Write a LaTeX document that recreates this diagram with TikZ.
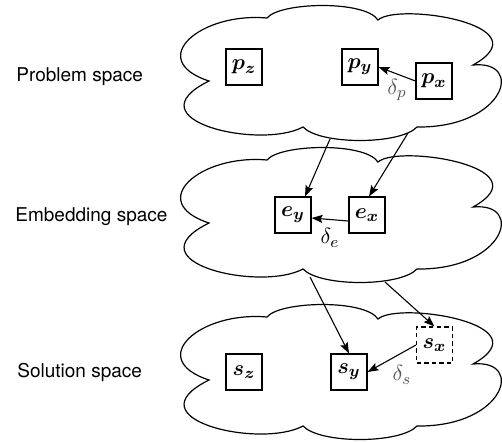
\documentclass[tikz,border=0pt]{standalone}
\usepackage{amsmath}
\usepackage{fontspec}
\setmainfont{TeX Gyre Heros}
\usetikzlibrary{arrows.meta,calc}
\tikzset{
  cloudline/.style={draw=black,line width=0.6pt},
  cloudpic/.pic={
    \draw[cloudline] (267,18) .. controls (280,2) and (365,0) .. (378,20)
      .. controls (398,2) and (545,25) .. (473,65)
      .. controls (525,60) and (505,128) .. (417,127)
      .. controls (400,145) and (320,145) .. (303,127)
      .. controls (260,150) and (130,120) .. (209,81)
      .. controls (145,60) and (200,12) .. (267,18) -- cycle;
  },
  box/.style={draw,line width=0.55pt,minimum size=18pt,inner sep=0pt,font=\fontsize{11}{13}\selectfont},
  dashbox/.style={box,dash pattern=on 2.2pt off 1.6pt},
  lbl/.style={anchor=base west,inner sep=0pt,font=\fontsize{9.5}{11}\selectfont},
  arr/.style={-{Stealth[length=5.5pt,width=4pt,inset=1pt]},line width=0.55pt},
  dl/.style={inner sep=0pt,font=\fontsize{11}{13}\selectfont,text=black!65},
}
\begin{document}
\begin{tikzpicture}[x=0.5pt,y=-0.5pt]
\useasboundingbox (0,0) rectangle (502,441);
% clouds
\pic at (0,0) {cloudpic};
\pic at (0,142) {cloudpic};
\pic at (0,299) {cloudpic};
% side labels
\node[lbl] (lp) at (16,81) {Problem space};
\node[lbl] (le) at (15,221.7) {Embedding space};
\node[lbl] (ls) at (17,377) {Solution space};
% boxes
\node[box] (pz) at (244,67) {$\boldsymbol{p_z}$};
\node[box] (py) at (360,67) {$\boldsymbol{p_y}$};
\node[box] (px) at (434,81) {$\boldsymbol{p_x}$};
\node[box] (ey) at (293,215) {$\boldsymbol{e_y}$};
\node[box] (ex) at (367,215) {$\boldsymbol{e_x}$};
\node[box] (sz) at (244,372) {$\boldsymbol{s_z}$};
\node[box] (sy) at (349,372) {$\boldsymbol{s_y}$};
\node[dashbox] (sx) at (434.5,345) {$\boldsymbol{s_x}$};
% edge start points on cloud borders
\coordinate (c1a) at (330,139);
\coordinate (c1b) at (408,133);
\coordinate (c2a) at (310,277);
\coordinate (c2b) at (385,282);
% arrows
\draw[arr] (px.west) -- (py.east);
\draw[arr] ($(ex.west)+(0,6)$) -- ($(ey.east)+(0,3)$);
\draw[arr] (sx.west) -- (sy.east);
\draw[arr] (c1a) -- ($(ey.north)+(12,0)$);
\draw[arr] (c1b) -- ($(ex.north)+(2,0)$);
\draw[arr] (c2a) -- (sy.north);
\draw[arr] (c2b) -- (sx.north);
% delta labels
\node[dl] (dp) at (397,90) {$\delta_p$};
\node[dl,text=black] (de) at (330,238) {$\delta_e$};
\node[dl] (ds) at (402,375) {$\delta_s$};
\end{tikzpicture}
\end{document}
